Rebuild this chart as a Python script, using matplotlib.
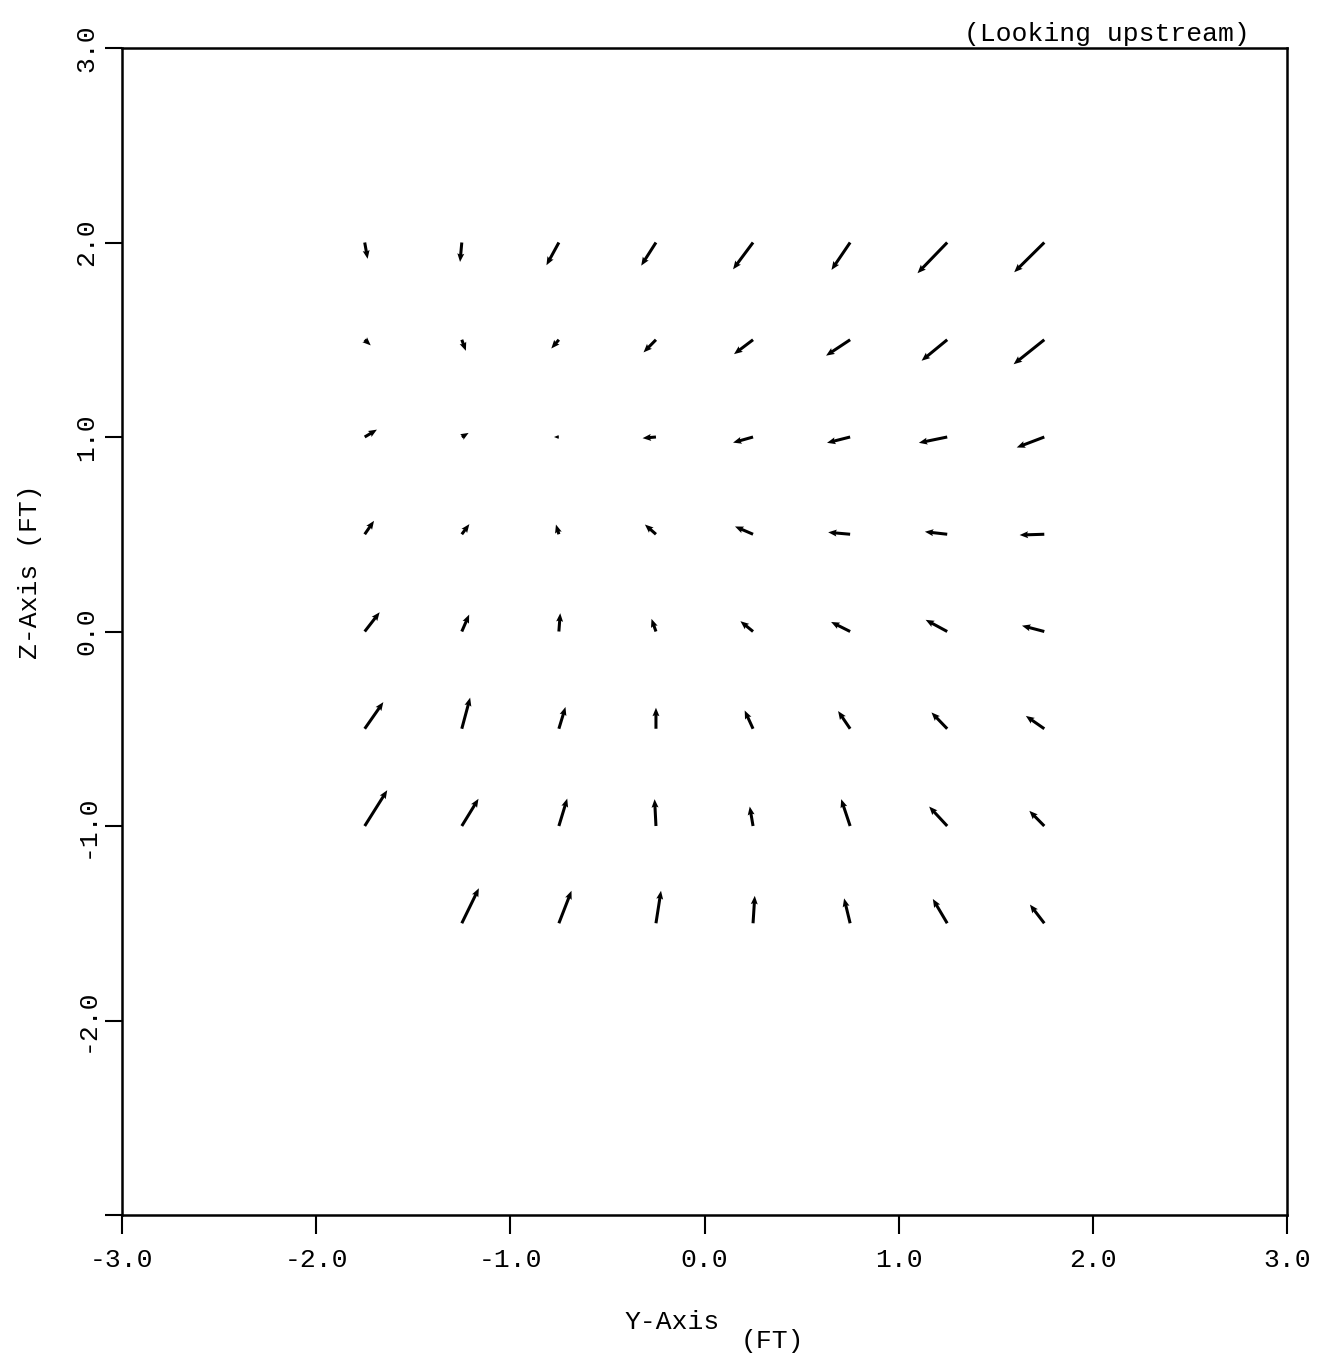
import numpy as np
import matplotlib
matplotlib.use("Agg")
import matplotlib.pyplot as plt

# Grid of measurement points (ft)
y_grid = [-1.75, -1.25, -0.75, -0.25, 0.25, 0.75, 1.25, 1.75]
z_grid = [2.0, 1.5, 1.0, 0.5, 0.0, -0.5, -1.0, -1.5]

# Secondary-flow vector components (plot units, ft)
dy_rows = [
    [0.015, -0.009, -0.064, -0.076, -0.103, -0.096, -0.153, -0.155],
    [0.031, 0.021, -0.039, -0.064, -0.098, -0.124, -0.132, -0.158],
    [0.063, 0.035, -0.025, -0.069, -0.103, -0.119, -0.146, -0.142],
    [0.048, 0.039, -0.015, -0.057, -0.093, -0.113, -0.115, -0.127],
    [0.077, 0.038, 0.007, -0.023, -0.065, -0.098, -0.111, -0.115],
    [0.096, 0.043, 0.034, 0.000, -0.043, -0.062, -0.081, -0.095],
    [0.116, 0.086, 0.043, -0.007, -0.017, -0.046, -0.093, -0.077],
    [np.nan, 0.088, 0.065, 0.026, 0.009, -0.031, -0.074, -0.074],
]
dz_rows = [
    [-0.084, -0.100, -0.117, -0.119, -0.138, -0.141, -0.158, -0.153],
    [-0.029, -0.057, -0.045, -0.065, -0.074, -0.082, -0.108, -0.126],
    [0.038, 0.021, 0.000, -0.006, -0.029, -0.030, -0.030, -0.054],
    [0.069, 0.052, 0.050, 0.050, 0.040, 0.010, 0.013, -0.004],
    [0.099, 0.087, 0.094, 0.065, 0.053, 0.049, 0.060, 0.030],
    [0.137, 0.160, 0.112, 0.108, 0.094, 0.091, 0.084, 0.066],
    [0.184, 0.140, 0.141, 0.138, 0.100, 0.138, 0.100, 0.078],
    [np.nan, 0.180, 0.167, 0.167, 0.141, 0.128, 0.125, 0.096],
]

tick_values = [-3.0, -2.0, -1.0, 0.0, 1.0, 2.0, 3.0]

font = "Liberation Mono"
plt.rcParams["font.family"] = [font, "DejaVu Sans Mono"]

# Flatten grid and drop missing points
Y, Z = np.meshgrid(y_grid, z_grid)
U = np.array(dy_rows)
V = np.array(dz_rows)
ok = ~np.isnan(U)
Y, Z, U, V = Y[ok], Z[ok], U[ok], V[ok]

fig = plt.figure(figsize=(13.17, 13.60), dpi=100)
ax = fig.add_axes([122/1317, 1 - 1215/1360, 1165/1317, 1167/1360])

ax.quiver(Y, Z, U, V, angles="xy", scale_units="xy", scale=1,
          color="black", width=0.0026, headwidth=2.3, headlength=2.8,
          headaxislength=2.5, minlength=0.5)

ax.set_xlim(-3, 3)
ax.set_ylim(-3, 3)
ax.set_xticks(tick_values)
ax.set_yticks(tick_values)
ax.set_xticklabels(["%.1f" % t for t in tick_values], fontsize=19)
# the z axis has no label at its lowest tick
ylabels = ["%.1f" % t for t in tick_values]
ylabels[0] = ""
ax.set_yticklabels(ylabels, fontsize=19, rotation=90, va="center")
ax.tick_params(axis="x", direction="out", length=14, width=1.5, pad=10,
               top=False)
ax.tick_params(axis="y", direction="out", length=12, width=1.5, pad=5,
               right=False)
for s in ax.spines.values():
    s.set_linewidth(1.8)

fig.text(1250/1317, 1 - 34/1360, "(Looking upstream)",
         ha="right", va="center", fontsize=19)

# Axis titles
fig.text(30/1317, 1 - 572/1360, "Z-Axis (FT)", rotation=90,
         ha="center", va="center", fontsize=19)
fig.text(672/1317, 1 - 1322/1360, "Y-Axis", ha="center", va="center",
         fontsize=19)
fig.text(772/1317, 1 - 1341/1360, "(FT)", ha="center", va="center",
         fontsize=19)

fig.savefig("out.png", dpi=100)
